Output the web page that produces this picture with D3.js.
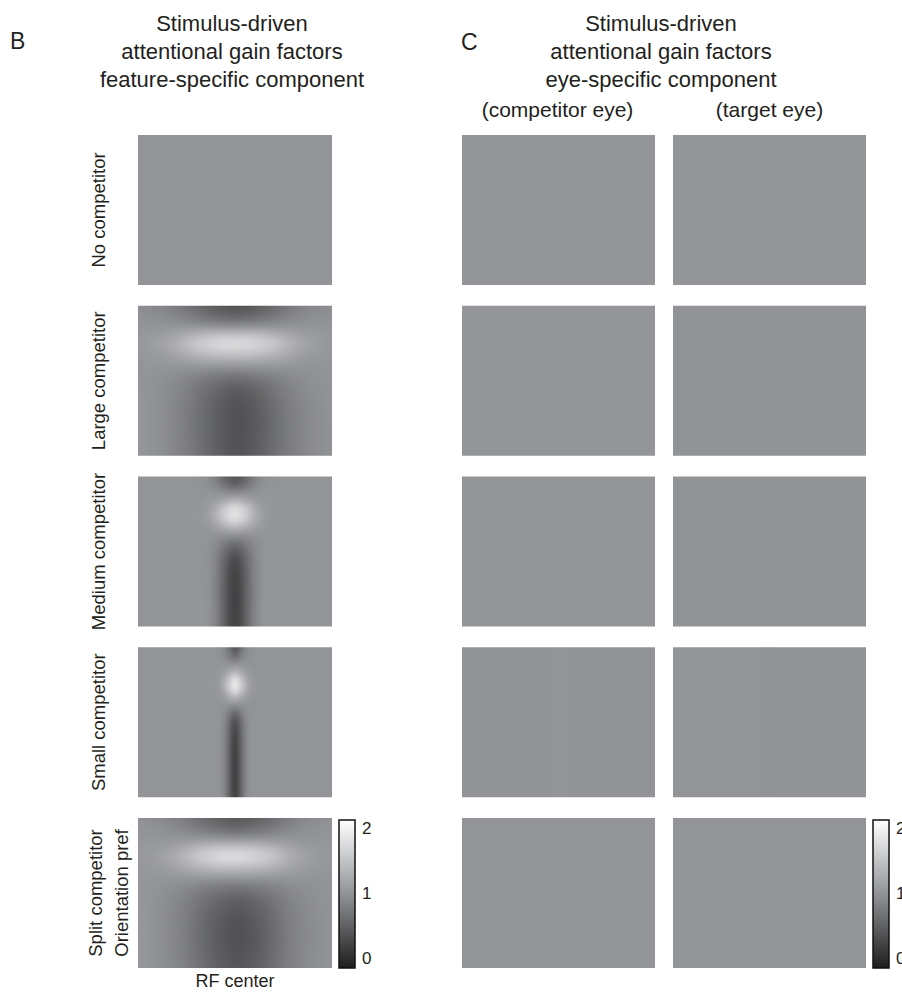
<!DOCTYPE html>
<html>
<head>
<meta charset="utf-8">
<script src="https://cdn.jsdelivr.net/npm/d3@7"></script>
<style>
    body, html {
        margin: 0;
        padding: 0;
        background: #fff;
        font-family: "Liberation Sans", Arial, sans-serif;
    }
    text { fill: #231f20; }
</style>
</head>
<body>
<div id="container"></div>
<script>
// ---- data (gain factor, 1 = no modulation) ----
const conditions = ["No competitor", "Large competitor", "Medium competitor", "Small competitor", "Split competitor"];
const gainTicks = [0, 1, 2];
const gainDomain = [-0.15, 1, 2.12];

// positions are fractions of the panel (x: RF center, y: orientation pref from top)
const noCompCols = [0, 1];
const noCompRows = [0, 1];
const noCompGain = [[1, 1], [1, 1]];

const largeCols = [0, 0.12, 0.22, 0.3, 0.38, 0.45, 0.5, 0.55, 0.62, 0.7, 0.78, 0.88, 1];
const largeRows = [0, 0.06, 0.13, 0.19, 0.25, 0.31, 0.38, 0.45, 0.55, 0.7, 0.85, 1];
const largeGain = [
    [0.94, 0.86, 0.74, 0.6, 0.47, 0.4, 0.37, 0.39, 0.46, 0.59, 0.74, 0.87, 0.95],
    [0.97, 0.92, 0.83, 0.7, 0.58, 0.51, 0.48, 0.5, 0.57, 0.69, 0.83, 0.92, 0.97],
    [1.0, 1.0, 0.98, 0.95, 0.91, 0.88, 0.87, 0.88, 0.91, 0.95, 0.98, 1.0, 1.0],
    [1.02, 1.08, 1.2, 1.34, 1.44, 1.49, 1.5, 1.49, 1.44, 1.34, 1.19, 1.06, 1.02],
    [1.04, 1.14, 1.38, 1.6, 1.73, 1.78, 1.8, 1.78, 1.73, 1.59, 1.36, 1.12, 1.03],
    [1.03, 1.1, 1.27, 1.43, 1.54, 1.59, 1.6, 1.59, 1.53, 1.42, 1.25, 1.08, 1.02],
    [1.01, 1.03, 1.07, 1.11, 1.13, 1.14, 1.14, 1.14, 1.13, 1.11, 1.06, 1.02, 1.0],
    [1.01, 0.98, 0.93, 0.87, 0.82, 0.79, 0.78, 0.79, 0.82, 0.87, 0.93, 0.97, 1.0],
    [1.02, 0.96, 0.85, 0.72, 0.58, 0.48, 0.44, 0.45, 0.54, 0.7, 0.83, 0.94, 1.0],
    [1.03, 0.95, 0.82, 0.68, 0.52, 0.4, 0.35, 0.36, 0.45, 0.62, 0.77, 0.91, 0.98],
    [1.03, 0.95, 0.82, 0.68, 0.52, 0.4, 0.35, 0.36, 0.45, 0.62, 0.77, 0.91, 0.98],
    [1.03, 0.96, 0.83, 0.7, 0.55, 0.43, 0.38, 0.39, 0.48, 0.64, 0.78, 0.91, 0.98]
];

const mediumCols = [0, 0.3, 0.36, 0.41, 0.45, 0.48, 0.5, 0.52, 0.55, 0.59, 0.64, 0.7, 1];
const mediumRows = [0, 0.05, 0.1, 0.16, 0.2, 0.25, 0.3, 0.35, 0.4, 0.46, 0.55, 0.75, 1];
const mediumGain = [
    [1, 1, 0.95, 0.75, 0.5, 0.4, 0.38, 0.4, 0.5, 0.75, 0.95, 1, 1],
    [1, 1, 0.97, 0.82, 0.62, 0.52, 0.5, 0.52, 0.62, 0.82, 0.97, 1, 1],
    [1, 1, 1, 0.95, 0.88, 0.84, 0.83, 0.84, 0.88, 0.95, 1, 1, 1],
    [1, 1, 1.03, 1.12, 1.25, 1.32, 1.35, 1.32, 1.25, 1.12, 1.03, 1, 1],
    [1, 1, 1.06, 1.3, 1.55, 1.68, 1.72, 1.68, 1.55, 1.3, 1.06, 1, 1],
    [1, 1.01, 1.08, 1.4, 1.7, 1.83, 1.87, 1.83, 1.7, 1.4, 1.08, 1.01, 1],
    [1, 1, 1.06, 1.3, 1.55, 1.68, 1.72, 1.68, 1.55, 1.3, 1.06, 1, 1],
    [1, 1, 1.02, 1.1, 1.2, 1.25, 1.27, 1.25, 1.2, 1.1, 1.02, 1, 1],
    [1, 1, 1, 0.97, 0.93, 0.9, 0.9, 0.9, 0.93, 0.97, 1, 1, 1],
    [1, 1, 1.0, 0.88, 0.7, 0.6, 0.58, 0.6, 0.7, 0.88, 1.0, 1, 1],
    [1, 1, 1.01, 0.8, 0.5, 0.3, 0.25, 0.3, 0.5, 0.8, 1.01, 1, 1],
    [1, 1, 1.02, 0.78, 0.42, 0.22, 0.18, 0.22, 0.42, 0.78, 1.02, 1, 1],
    [1, 1, 1.02, 0.8, 0.45, 0.25, 0.2, 0.25, 0.45, 0.8, 1.02, 1, 1]
];

const smallCols = [0, 0.38, 0.42, 0.45, 0.475, 0.49, 0.5, 0.51, 0.525, 0.55, 0.58, 0.62, 1];
const smallRows = [0, 0.05, 0.1, 0.17, 0.21, 0.25, 0.29, 0.33, 0.38, 0.44, 0.52, 0.75, 1];
const smallGain = [
    [1, 1, 0.98, 0.85, 0.6, 0.45, 0.4, 0.45, 0.6, 0.85, 0.98, 1, 1],
    [1, 1, 0.99, 0.9, 0.72, 0.6, 0.56, 0.6, 0.72, 0.9, 0.99, 1, 1],
    [1, 1, 1, 0.97, 0.9, 0.86, 0.85, 0.86, 0.9, 0.97, 1, 1, 1],
    [1, 1, 1.02, 1.15, 1.3, 1.38, 1.4, 1.38, 1.3, 1.15, 1.02, 1, 1],
    [1, 1, 1.05, 1.3, 1.6, 1.75, 1.78, 1.75, 1.6, 1.3, 1.05, 1, 1],
    [1, 1, 1.07, 1.38, 1.7, 1.86, 1.9, 1.86, 1.7, 1.38, 1.07, 1, 1],
    [1, 1, 1.05, 1.3, 1.6, 1.75, 1.78, 1.75, 1.6, 1.3, 1.05, 1, 1],
    [1, 1, 1.02, 1.12, 1.3, 1.38, 1.4, 1.38, 1.3, 1.12, 1.02, 1, 1],
    [1, 1, 1, 1, 0.98, 0.96, 0.95, 0.96, 0.98, 1, 1, 1, 1],
    [1, 1, 1, 0.92, 0.72, 0.62, 0.6, 0.62, 0.72, 0.92, 1, 1, 1],
    [1, 1, 1.01, 0.85, 0.48, 0.3, 0.26, 0.3, 0.48, 0.85, 1.01, 1, 1],
    [1, 1, 1.01, 0.82, 0.4, 0.2, 0.16, 0.2, 0.4, 0.82, 1.01, 1, 1],
    [1, 1, 1.01, 0.84, 0.44, 0.24, 0.2, 0.24, 0.44, 0.84, 1.01, 1, 1]
];

const splitCols = [0, 0.12, 0.22, 0.3, 0.38, 0.45, 0.5, 0.55, 0.62, 0.7, 0.78, 0.88, 1];
const splitRows = [0, 0.06, 0.13, 0.19, 0.25, 0.31, 0.38, 0.45, 0.55, 0.7, 0.85, 1];
const splitGain = [
    [0.97, 0.9, 0.8, 0.66, 0.54, 0.46, 0.43, 0.45, 0.51, 0.63, 0.78, 0.91, 0.97],
    [1.0, 0.95, 0.87, 0.76, 0.64, 0.56, 0.53, 0.55, 0.61, 0.73, 0.86, 0.95, 1.0],
    [1.02, 1.0, 0.99, 0.97, 0.94, 0.91, 0.9, 0.91, 0.93, 0.96, 0.99, 1.0, 1.0],
    [1.03, 1.07, 1.18, 1.33, 1.44, 1.49, 1.5, 1.48, 1.42, 1.31, 1.16, 1.05, 1.02],
    [1.04, 1.12, 1.33, 1.57, 1.74, 1.8, 1.8, 1.78, 1.7, 1.53, 1.3, 1.1, 1.03],
    [1.04, 1.08, 1.24, 1.42, 1.55, 1.6, 1.6, 1.58, 1.52, 1.4, 1.22, 1.07, 1.02],
    [1.02, 1.03, 1.06, 1.1, 1.12, 1.12, 1.12, 1.12, 1.1, 1.08, 1.05, 1.02, 1.0],
    [1.02, 0.98, 0.92, 0.86, 0.8, 0.77, 0.76, 0.77, 0.8, 0.86, 0.92, 0.97, 1.0],
    [1.03, 0.96, 0.85, 0.72, 0.58, 0.5, 0.46, 0.47, 0.54, 0.68, 0.83, 0.94, 1.0],
    [1.04, 0.95, 0.82, 0.66, 0.5, 0.4, 0.35, 0.36, 0.45, 0.62, 0.78, 0.92, 0.99],
    [1.04, 0.95, 0.82, 0.66, 0.5, 0.39, 0.34, 0.35, 0.44, 0.61, 0.78, 0.92, 0.99],
    [1.04, 0.96, 0.84, 0.7, 0.55, 0.45, 0.41, 0.42, 0.5, 0.65, 0.8, 0.93, 1.0]
];

// eye-specific component: nearly flat, one profile across RF center per condition
const eyeCols = [0, 0.45, 0.47, 0.53, 0.55, 1];
const eyeRows = [0, 1];
const competitorEyeGain = [
    [1.01, 1.01, 1.01, 1.01, 1.01, 1.01],
    [1.01, 1.01, 1.01, 1.01, 1.01, 1.01],
    [1.01, 1.01, 1.01, 1.01, 1.01, 1.01],
    [0.99, 0.99, 1.015, 1.015, 0.99, 0.99],
    [1.0, 1.0, 1.0, 1.0, 1.0, 1.0]
];
const targetEyeGain = [
    [1.01, 1.01, 1.01, 1.01, 1.01, 1.01],
    [0.99, 0.99, 0.99, 0.99, 0.99, 0.99],
    [0.99, 0.99, 0.99, 0.99, 0.99, 0.99],
    [1.0, 1.0, 0.975, 0.975, 0.99, 0.99],
    [1.0, 1.0, 1.0, 1.0, 1.0, 1.0]
];

// ---- layout ----
const width = 902, height = 994;
const gainColor = d3.scaleLinear().domain(gainDomain)
    .range(["#1e1e1e", "#939498", "#ffffff"]).clamp(true);

const svg = d3.select("#container").append("svg")
    .attr("width", width).attr("height", height)
    .style("display", "block");

const rowY = d3.scaleBand().domain(conditions).range([135, 968]).paddingInner(0.1215);
const panelH = rowY.bandwidth();
const colB = { x: 138, w: 194 };
const colC1 = { x: 462, w: 193 };
const colC2 = { x: 673, w: 193 };

// smooth (B-spline) rendering of a gridded gain map into an <image>
function drawHeat(x, y, w, h, cols, rows, gain) {
    w = Math.round(w); h = Math.round(h);
    const canvas = document.createElement("canvas");
    canvas.width = w; canvas.height = h;
    const ctx = canvas.getContext("2d");
    const img = ctx.createImageData(w, h);
    const colIndex = d3.scaleLinear().domain(cols).range(d3.range(cols.length));
    const rowIndex = d3.scaleLinear().domain(rows).range(d3.range(rows.length));
    const colInterps = cols.map((c, j) => d3.interpolateBasis(gain.map(r => r[j])));
    for (let py = 0; py < h; py++) {
        const ty = rowIndex((py + 0.5) / h) / (rows.length - 1);
        const line = d3.interpolateBasis(colInterps.map(f => f(ty)));
        for (let px = 0; px < w; px++) {
            const tx = colIndex((px + 0.5) / w) / (cols.length - 1);
            const c = d3.rgb(gainColor(line(tx)));
            const k = (py * w + px) * 4;
            img.data[k] = c.r; img.data[k + 1] = c.g; img.data[k + 2] = c.b; img.data[k + 3] = 255;
        }
    }
    ctx.putImageData(img, 0, 0);
    svg.append("image")
        .attr("x", x).attr("y", y)
        .attr("width", w).attr("height", h)
        .attr("preserveAspectRatio", "none")
        .attr("href", canvas.toDataURL());
}

const featureMaps = [
    [noCompCols, noCompRows, noCompGain],
    [largeCols, largeRows, largeGain],
    [mediumCols, mediumRows, mediumGain],
    [smallCols, smallRows, smallGain],
    [splitCols, splitRows, splitGain]
];

conditions.forEach((cond, i) => {
    const y = rowY(cond);
    const [cols, rows, gain] = featureMaps[i];
    drawHeat(colB.x, y, colB.w, panelH, cols, rows, gain);
    drawHeat(colC1.x, y, colC1.w, panelH, eyeCols, eyeRows, [competitorEyeGain[i], competitorEyeGain[i]]);
    drawHeat(colC2.x, y, colC2.w, panelH, eyeCols, eyeRows, [targetEyeGain[i], targetEyeGain[i]]);
});

// ---- row labels ----
const labelSize = 18.5;
conditions.slice(0, 4).forEach(cond => {
    const cy = rowY(cond) + panelH / 2;
    svg.append("text")
        .attr("transform", `translate(105,${cy}) rotate(-90)`)
        .attr("text-anchor", "middle")
        .style("font-size", labelSize + "px")
        .text(cond);
});
{
    const cy = rowY("Split competitor") + panelH / 2;
    svg.append("text")
        .attr("transform", `translate(102,${cy}) rotate(-90)`)
        .attr("text-anchor", "middle")
        .style("font-size", labelSize + "px")
        .text("Split competitor");
    svg.append("text")
        .attr("transform", `translate(128,${cy}) rotate(-90)`)
        .attr("text-anchor", "middle")
        .style("font-size", labelSize + "px")
        .text("Orientation pref");
}
svg.append("text")
    .attr("x", colB.x + colB.w / 2).attr("y", 987)
    .attr("text-anchor", "middle")
    .style("font-size", "18px")
    .text("RF center");

// ---- titles ----
const titleSize = "22px";
svg.append("text").attr("x", 10).attr("y", 49).style("font-size", "23px").text("B");
svg.append("text").attr("x", 461).attr("y", 50).style("font-size", "23px").text("C");

const titleB = ["Stimulus-driven", "attentional gain factors", "feature-specific component"];
const titleC = ["Stimulus-driven", "attentional gain factors", "eye-specific component"];
const titleBaselines = [31, 59, 87];
titleB.forEach((t, i) => svg.append("text")
    .attr("x", 232).attr("y", titleBaselines[i])
    .attr("text-anchor", "middle").style("font-size", titleSize).text(t));
titleC.forEach((t, i) => svg.append("text")
    .attr("x", 661).attr("y", titleBaselines[i])
    .attr("text-anchor", "middle").style("font-size", titleSize).text(t));
svg.append("text").attr("x", colC1.x + colC1.w / 2 - 1).attr("y", 117)
    .attr("text-anchor", "middle").style("font-size", "21px").text("(competitor eye)");
svg.append("text").attr("x", colC2.x + colC2.w / 2).attr("y", 117)
    .attr("text-anchor", "middle").style("font-size", "21px").text("(target eye)");

// ---- colorbars ----
const grad = svg.append("defs").append("linearGradient")
    .attr("id", "gainGrad")
    .attr("x1", 0).attr("y1", 1).attr("x2", 0).attr("y2", 0);
const gMin = gainDomain[0], gMax = gainDomain[gainDomain.length - 1];
d3.range(0, 21).map(i => gMin + (gMax - gMin) * i / 20).forEach(v => {
    grad.append("stop")
        .attr("offset", (v - gMin) / (gMax - gMin))
        .attr("stop-color", gainColor(v));
});

const cbY = d3.scaleLinear().domain([gMin, gMax]).range([968, 820]);
// the right-hand colorbar's labels run off the page edge, as in the original
[339, 873].forEach(cx => {
    svg.append("rect")
        .attr("x", cx).attr("y", cbY(gMax))
        .attr("width", 16).attr("height", cbY(gMin) - cbY(gMax))
        .attr("fill", "url(#gainGrad)")
        .attr("stroke", "#111").attr("stroke-width", 1.5);
    const axis = svg.append("g")
        .attr("transform", `translate(${cx + 16},0)`)
        .call(d3.axisRight(cbY).tickValues(gainTicks).tickSize(0).tickPadding(7).tickFormat(d3.format("d")));
    axis.select(".domain").remove();
    axis.selectAll("text")
        .style("font-size", "17px")
        .style("font-family", "'Liberation Sans', Arial, sans-serif")
        .attr("fill", "#231f20");
});
</script>
</body>
</html>
